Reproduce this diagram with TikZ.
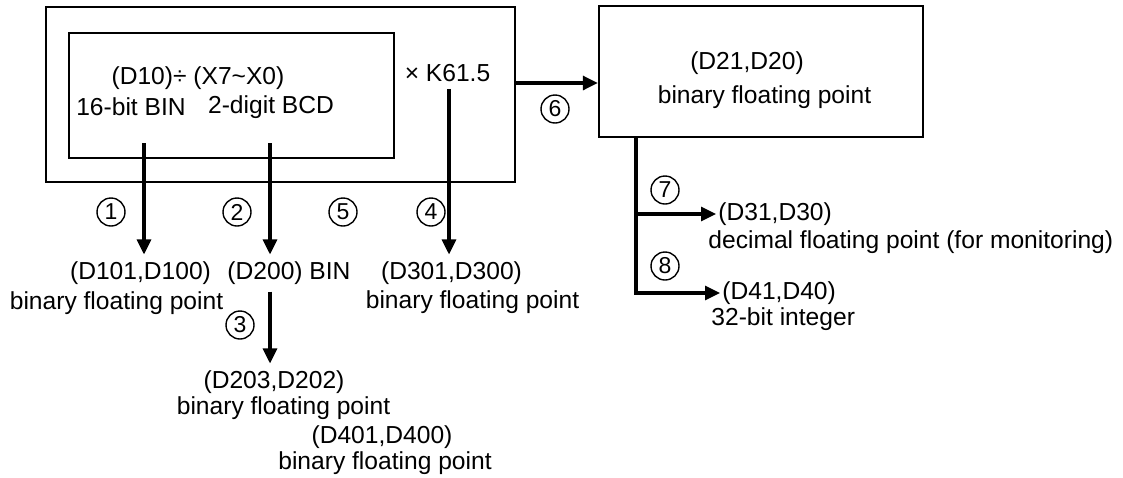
\documentclass[tikz,border=0pt]{standalone}
\usepackage{fontspec}
\setmainfont{Liberation Sans}
\usepackage{tikz}
\usetikzlibrary{arrows.meta}

\begin{document}
\begin{tikzpicture}[x=0.5pt,y=-0.5pt,
  font=\fontsize{12.3}{14}\selectfont,
  box/.style={draw,line width=1.2pt,inner sep=0pt},
  arr/.style={line width=1.6pt,-{Triangle[length=7.5pt,width=7pt]}},
  num/.style={draw,circle,line width=0.7pt,inner sep=0pt,minimum size=14pt,font=\fontsize{11.5}{11.5}\selectfont}]
\useasboundingbox (0,0) rectangle (1123,477);
% boxes
\node[box,minimum width=234.5pt,minimum height=87.5pt] (outer) at (280.5,94.5) {};
\node[box,minimum width=162.5pt,minimum height=62.5pt] (inner) at (231.5,95.5) {};
\node[box,minimum width=162pt,minimum height=65.5pt] (res) at (761,71.5) {};
% texts in the boxes
\node (div) at (198,78) {(D10)÷ (X7\textasciitilde X0)};
\node (bin16) at (131,107) {16-bit BIN};
\node (bcd) at (271,107) {2-digit BCD};
\node (k615) at (447.5,73) {× K61.5};
\node (d20) at (747,63) {(D21,D20)};
\node (bfp0) at (764.5,97) {binary floating point};
% results
\node (d100) at (140.5,273) {(D101,D100)};
\node (bfp1) at (116.5,303) {binary floating point};
\node (d200) at (289,273) {(D200) BIN};
\node (d300) at (451.5,273) {(D301,D300)};
\node (bfp3) at (472.5,302) {binary floating point};
\node (d202) at (274,382) {(D203,D202)};
\node (bfp2) at (283.5,408) {binary floating point};
\node (d400) at (382,437) {(D401,D400)};
\node (bfp4) at (385,463) {binary floating point};
\node[anchor=west,inner xsep=1pt] (d30) at (716,214) {(D31,D30)};
\node[anchor=west,inner xsep=0pt] (dfp) at (708,242) {decimal floating point (for monitoring)};
\node[anchor=west,inner xsep=1pt] (d40) at (720,293) {(D41,D40)};
\node[anchor=west,inner xsep=0pt] (int32) at (711,319) {32-bit integer};
% step numbers
\node[num] (n1) at (111,212) {1};
\node[num] (n2) at (237,212) {2};
\node[num] (n3) at (240,325) {3};
\node[num] (n4) at (431,212) {4};
\node[num] (n5) at (343,212) {5};
\node[num] (n6) at (555,109) {6};
\node[num] (n7) at (665,190) {7};
\node[num] (n8) at (665,266) {8};
% connectors
\coordinate (s1) at (144,143);
\coordinate (s2) at (270,143);
\coordinate (s4) at (449,0);
\coordinate (r6) at (0,83);
\coordinate (j7) at (636,214);
\coordinate (j8) at (636,293);
\draw[arr] (s1) -- (s1 |- d100.north);
\draw[arr] (s2) -- (s2 |- d200.north);
\draw[arr] (s2 |- d200.south) -- (s2 |- d202.north);
\draw[arr] (s4 |- k615.south) -- (s4 |- d300.north);
\draw[arr] (outer.east |- r6) -- (res.west |- r6);
\draw[arr] (res.south -| j8) -- (j8) -- (j8 -| d40.west);
\draw[arr] (j7) -- (j7 -| d30.west);
\end{tikzpicture}
\end{document}
